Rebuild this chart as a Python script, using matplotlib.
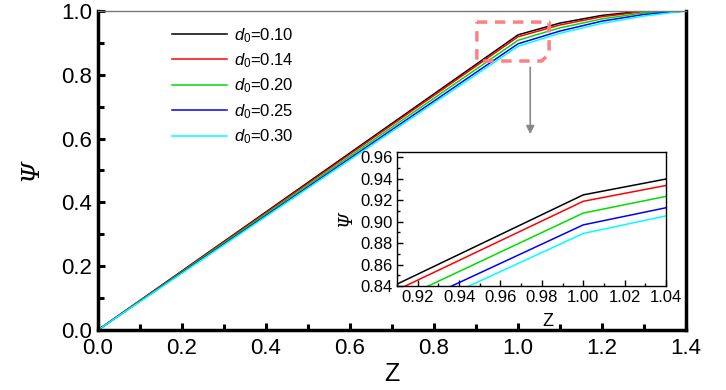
import numpy as np
import matplotlib.pyplot as plt
from matplotlib.ticker import MultipleLocator

plt.rcParams['font.family'] = ['Liberation Sans', 'DejaVu Sans']
plt.rcParams['mathtext.fontset'] = 'custom'
plt.rcParams['mathtext.rm'] = 'Liberation Sans'
plt.rcParams['mathtext.it'] = 'Liberation Sans:italic'

# data
z = [0.0, 1.0, 1.1, 1.2, 1.3, 1.4]
psi_010 = [0.0, 0.925, 0.962, 0.986, 1.000, 1.0]
psi_014 = [0.0, 0.919, 0.956, 0.982, 0.998, 1.0]
psi_020 = [0.0, 0.908, 0.947, 0.975, 0.994, 1.0]
psi_025 = [0.0, 0.897, 0.937, 0.968, 0.989, 1.0]
psi_030 = [0.0, 0.889, 0.930, 0.961, 0.984, 1.0]

labels = ['$d_0$=0.10', '$d_0$=0.14', '$d_0$=0.20', '$d_0$=0.25', '$d_0$=0.30']
colors = ['black', 'red', '#00dd00', 'blue', 'cyan']
series = [psi_010, psi_014, psi_020, psi_025, psi_030]

psi_font = dict(family=['DejaVu Serif'], style='italic')

fig = plt.figure(figsize=(7.26, 3.9), dpi=100)
ax = fig.add_axes([0.135, 0.154, 0.81, 0.818])

for s, c, l in zip(series, colors, labels):
    ax.plot(z, s, color=c, lw=1.1, label=l)

ax.set_xlim(0, 1.4)
ax.set_ylim(0, 1.0)
ax.xaxis.set_major_locator(MultipleLocator(0.2))
ax.xaxis.set_minor_locator(MultipleLocator(0.1))
ax.yaxis.set_major_locator(MultipleLocator(0.2))
ax.yaxis.set_minor_locator(MultipleLocator(0.1))
ax.tick_params(which='both', direction='in', width=2.2, labelsize=16, colors='black')
ax.tick_params(which='major', length=5, pad=6)
ax.tick_params(which='minor', length=4)
ax.tick_params(axis='y', pad=4)
for side in ['left', 'bottom', 'right']:
    ax.spines[side].set_linewidth(2.5)
ax.spines['top'].set_linewidth(1.0)
ax.spines['top'].set_color('#777777')
ax.set_xlabel('Z', fontsize=18, labelpad=2)
ax.set_ylabel('Ψ', fontsize=18, labelpad=14, **psi_font)

ax.legend(loc='upper left', bbox_to_anchor=(0.1, 1.0), frameon=False,
          fontsize=12, handlelength=3.3, labelspacing=0.4, handletextpad=0.45)

# zoom region marker and arrow
x0, x1, y0, y1 = 0.902, 1.074, 0.843, 0.965
ax.plot([x0, x1, x1, x1 - 0.018, x0, x0], [y1, y1, y0 + 0.022, y0, y0, y1],
        color='#ff8080', lw=2.5, ls=(0, (3, 2.2)))
ax.annotate('', xy=(1.029, 0.605), xytext=(1.029, 0.832),
            arrowprops=dict(arrowstyle='-|>', color='#888888', lw=1.2,
                            mutation_scale=12))

axin = fig.add_axes([397 / 726, (390 - 286) / 390, 269 / 726, 134 / 390], zorder=2)
for s, c in zip(series, colors):
    axin.plot(z, s, color=c, lw=1.1)
axin.set_xlim(0.91, 1.04)
axin.set_ylim(0.84, 0.965)
axin.xaxis.set_minor_locator(MultipleLocator(0.01))
axin.yaxis.set_major_locator(MultipleLocator(0.02))
axin.yaxis.set_minor_locator(MultipleLocator(0.01))
axin.tick_params(which='both', direction='in', width=1.0, labelsize=12)
axin.tick_params(which='major', length=4, pad=3)
axin.tick_params(which='minor', length=2.5)
axin.set_xticks(np.arange(0.92, 1.041, 0.02))
axin.set_xticklabels(['0.92', '0.94', '0.96', '0.98', '1.00', '1.02', '1.04'])
for side in axin.spines:
    axin.spines[side].set_linewidth(1.0)
axin.set_xlabel('Z', fontsize=13)
axin.xaxis.set_label_coords(0.56, -0.2)
axin.set_ylabel('Ψ', fontsize=13, labelpad=4, **psi_font)

fig.savefig('out.png', dpi=100)
